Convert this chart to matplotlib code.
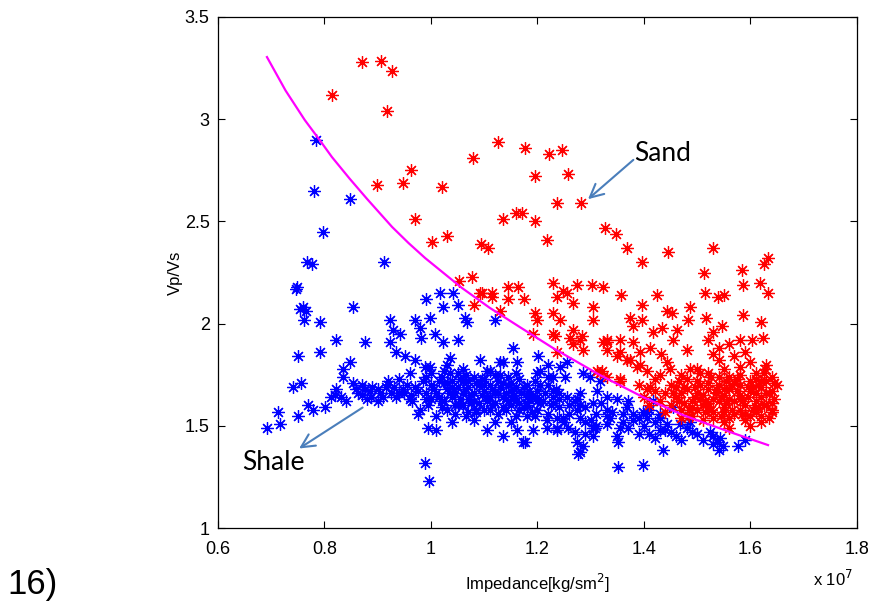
import matplotlib
matplotlib.use("Agg")
import matplotlib.pyplot as plt

plt.rcParams['font.family'] = ['Liberation Sans', 'DejaVu Sans']

# impedance values in units of 1e7 kg/sm^2, and Vp/Vs ratios
shale_x = [
    0.784, 0.780, 0.848, 0.797, 0.767, 0.777, 0.912, 0.746, 0.748, 0.760, 0.754, 0.765, 0.762, 0.792,
    0.854, 0.822, 0.876, 0.750, 0.792, 0.741, 0.756, 0.713, 0.716, 0.692, 0.750, 0.769, 0.778, 0.801,
    0.812, 0.835, 0.848, 0.835, 0.822, 0.831, 0.854, 0.863, 0.876, 0.887, 0.900, 0.919, 0.925, 0.947,
    0.962, 0.923, 0.929, 0.942, 0.923, 0.934, 0.951, 0.970, 0.979, 0.981, 0.991, 1.017, 1.023, 1.041,
    1.051, 1.064, 1.068, 1.008, 1.023, 1.051, 0.970, 0.989, 0.976, 0.995, 1.009, 0.989, 0.996, 1.120,
    1.154, 1.135, 0.998, 1.036, 1.092, 1.135, 1.162, 1.201, 1.220, 1.255, 1.285, 1.317, 1.229, 1.199,
    0.998,
    0.870, 0.885, 0.905, 0.915, 0.935, 0.955, 0.965, 0.975, 0.985, 0.990, 0.870, 0.940, 0.960, 0.980,
    0.900, 0.840, 0.820,
    1.00, 1.01, 1.02, 1.02, 1.03, 1.03, 1.04, 1.04, 1.05, 1.05, 1.05, 1.06, 1.06, 1.07, 1.07, 1.07,
    1.08, 1.08, 1.09, 1.09, 1.10, 1.10, 1.10, 1.11, 1.11, 1.12, 1.12, 1.13, 1.13, 1.14, 1.14, 1.15,
    1.15, 1.16, 1.16, 1.17, 1.18, 1.18, 1.19, 1.20, 1.20, 1.21, 1.22, 1.22, 1.23, 1.24, 1.01, 1.04,
    1.08, 1.12, 1.06, 1.03, 1.11, 1.16, 0.995, 1.00,
    1.015, 1.025, 1.035, 1.045, 1.055, 1.065, 1.075, 1.085, 1.095, 1.105, 1.115, 1.125, 1.135, 1.145,
    1.155, 1.165, 1.175, 1.185, 1.195, 1.205, 1.025, 1.045, 1.065, 1.085, 1.105, 1.125, 1.145, 1.165,
    1.185, 0.930, 0.950, 0.970, 0.990, 0.910, 0.890,
    1.005, 1.015, 1.025, 1.035, 1.045, 1.055, 1.065, 1.075, 1.085, 1.095, 1.105, 1.115, 1.125, 1.135,
    1.145, 1.155, 1.165, 1.175, 1.185, 1.195, 1.205, 1.215, 1.225, 1.235, 1.00, 1.02, 1.04, 1.06,
    1.08, 1.10, 1.12, 1.14, 1.16, 1.18, 1.20, 1.22, 1.24, 0.99, 1.03, 1.07, 1.11, 1.15,
    1.19, 1.23, 1.27, 0.96, 0.94, 0.92, 0.88, 0.86,
    1.135, 1.154, 1.180, 1.199, 1.229, 1.218, 1.248, 1.274, 1.280, 1.304, 1.330, 1.304, 1.274, 1.285,
    1.276, 1.177, 1.105, 1.162, 1.192, 1.237, 1.130, 1.205, 1.242, 1.299, 1.252, 1.280, 1.312, 1.349,
    1.368, 1.398, 1.406, 1.379, 1.355, 1.336, 1.308, 1.304, 1.280, 1.351, 1.398, 1.237, 1.237, 1.257,
    1.173, 1.218, 1.255, 1.274, 1.351,
    1.26, 1.28, 1.30, 1.32, 1.34, 1.36, 1.38, 1.40, 1.42, 1.44, 1.33, 1.37, 1.41, 1.29,
    1.25, 1.27, 1.29, 1.31, 1.33, 1.35, 1.37, 1.39, 1.41, 1.43, 1.45, 1.47, 1.49, 1.51, 1.53,
    1.537, 1.499, 1.436, 1.524, 1.543, 1.548, 1.406, 1.430, 1.443, 1.468, 1.486, 1.430, 1.454, 1.417,
    1.577, 1.590, 1.540, 1.530, 1.460, 1.480, 1.390, 1.420, 1.360, 1.330, 1.290, 1.310, 1.260, 1.240,
    1.180, 1.150,
]
shale_y = [
    2.90, 2.65, 2.61, 2.45, 2.30, 2.29, 2.30, 2.17, 2.18, 2.08, 2.07, 2.06, 2.02, 2.01,
    2.08, 1.92, 1.91, 1.84, 1.86, 1.69, 1.71, 1.57, 1.51, 1.49, 1.55, 1.60, 1.58, 1.59,
    1.64, 1.78, 1.81, 1.74, 1.68, 1.64, 1.71, 1.66, 1.68, 1.64, 1.68, 1.72, 1.66, 1.68,
    1.65, 2.02, 1.97, 1.95, 1.91, 1.86, 1.84, 2.02, 1.98, 1.93, 2.12, 2.15, 2.08, 2.15,
    2.09, 2.03, 2.01, 1.95, 1.91, 1.92, 1.82, 1.79, 1.56, 1.49, 1.48, 1.32, 1.23, 2.02,
    1.88, 1.45, 2.03, 1.83, 1.82, 1.81, 1.81, 1.84, 1.80, 1.81, 1.76, 1.72, 1.74, 1.76,
    1.79,
    1.65, 1.67, 1.66, 1.69, 1.64, 1.70, 1.62, 1.67, 1.72, 1.63, 1.70, 1.73, 1.76, 1.58,
    1.62, 1.62, 1.65,
    1.70, 1.66, 1.74, 1.62, 1.68, 1.58, 1.72, 1.64, 1.69, 1.60, 1.76, 1.66, 1.72, 1.63, 1.69, 1.57,
    1.74, 1.66, 1.70, 1.61, 1.67, 1.73, 1.58, 1.64, 1.70, 1.66, 1.61, 1.69, 1.75, 1.63, 1.58, 1.67,
    1.71, 1.62, 1.55, 1.66, 1.60, 1.70, 1.64, 1.58, 1.67, 1.62, 1.56, 1.70, 1.64, 1.59, 1.55, 1.52,
    1.53, 1.52, 1.78, 1.80, 1.77, 1.76, 1.60, 1.76,
    1.64, 1.71, 1.66, 1.60, 1.73, 1.68, 1.61, 1.71, 1.65, 1.62, 1.68, 1.72, 1.59, 1.70,
    1.65, 1.61, 1.69, 1.63, 1.72, 1.61, 1.77, 1.56, 1.55, 1.57, 1.77, 1.56, 1.74, 1.58,
    1.67, 1.69, 1.66, 1.69, 1.66, 1.64, 1.69,
    1.68, 1.72, 1.62, 1.76, 1.66, 1.63, 1.75, 1.65, 1.58, 1.73, 1.64, 1.60, 1.66, 1.71,
    1.62, 1.68, 1.73, 1.59, 1.65, 1.55, 1.70, 1.66, 1.60, 1.68, 1.63, 1.59, 1.69, 1.60,
    1.62, 1.70, 1.75, 1.66, 1.69, 1.64, 1.62, 1.74, 1.63, 1.74, 1.71, 1.72, 1.58, 1.60,
    1.57, 1.67, 1.62, 1.63, 1.66, 1.70, 1.63, 1.68,
    1.64, 1.63, 1.61, 1.64, 1.61, 1.53, 1.54, 1.63, 1.54, 1.61, 1.64, 1.49, 1.42, 1.40,
    1.36, 1.42, 1.48, 1.48, 1.48, 1.49, 1.81, 1.77, 1.79, 1.74, 1.74, 1.66, 1.67, 1.63,
    1.59, 1.57, 1.54, 1.53, 1.49, 1.54, 1.49, 1.45, 1.37, 1.42, 1.31, 1.54, 1.48, 1.49,
    1.42, 1.49, 1.64, 1.58, 1.30,
    1.56, 1.60, 1.53, 1.61, 1.57, 1.52, 1.56, 1.50, 1.52, 1.48, 1.51, 1.62, 1.58, 1.46,
    1.52, 1.47, 1.59, 1.50, 1.55, 1.45, 1.49, 1.54, 1.46, 1.56, 1.47, 1.43, 1.47, 1.43, 1.45,
    1.42, 1.46, 1.38, 1.47, 1.44, 1.40, 1.57, 1.54, 1.51, 1.51, 1.52, 1.48, 1.59, 1.62,
    1.40, 1.43, 1.38, 1.41, 1.45, 1.49, 1.46, 1.44, 1.56, 1.58, 1.52, 1.56, 1.60, 1.66,
    1.55, 1.52,
]

sand_x = [
    0.870, 0.906, 0.927, 0.814, 0.917, 0.899, 0.947, 0.962, 1.020, 0.970,
    1.126, 1.177, 1.222, 1.246, 1.079, 1.195, 1.257, 1.237, 1.282, 1.135, 1.160, 1.171, 1.195, 1.327,
    1.002, 1.030, 1.094, 1.107, 1.218,
    1.053, 1.077, 1.145, 1.163, 1.229, 1.248, 1.274, 1.302, 1.323, 1.096, 1.115,
    1.347, 1.368, 1.396, 1.445, 1.530, 1.513, 1.584, 1.633, 1.625, 1.586, 1.618, 1.633, 1.357, 1.424,
    1.515, 1.539, 1.550,
    1.396, 1.443, 1.452, 1.374, 1.396, 1.486, 1.483, 1.516, 1.586, 1.620, 1.379, 1.417, 1.434, 1.462,
    1.546, 1.530, 1.454, 1.520, 1.603, 1.624, 1.330, 1.355, 1.379, 1.330, 1.355, 1.393, 1.411, 1.481,
    1.432, 1.374, 1.393, 1.443, 1.449, 1.406, 1.627, 1.355, 1.430, 1.486, 1.505, 1.411,
    1.195, 1.199, 1.237, 1.255, 1.267, 1.304, 1.229, 1.242, 1.267, 1.280, 1.229, 1.192, 1.323, 1.321,
    1.304, 1.285, 1.237,
    1.233, 1.261, 1.284, 1.267, 1.330, 1.349, 1.368, 1.387, 1.312, 1.330, 1.355, 1.406, 1.317,
    1.092, 1.115, 1.145, 1.174, 1.080, 1.130,
    1.45, 1.46, 1.47, 1.47, 1.48, 1.49, 1.49, 1.50, 1.50, 1.51, 1.51, 1.52, 1.52, 1.53, 1.53, 1.54,
    1.54, 1.55, 1.55, 1.55, 1.56, 1.56, 1.57, 1.57, 1.58, 1.58, 1.58, 1.59, 1.59, 1.60, 1.60, 1.61,
    1.61, 1.61, 1.62, 1.62, 1.63, 1.63, 1.64, 1.64, 1.53, 1.57, 1.55, 1.59, 1.60, 1.62, 1.60, 1.56,
    1.63, 1.46, 1.48, 1.52, 1.54, 1.56, 1.58, 1.61, 1.62, 1.64, 1.50, 1.44, 1.43, 1.42, 1.45, 1.47,
    1.44, 1.41, 1.40, 1.39, 1.42, 1.65, 1.54, 1.56, 1.58,
    1.455, 1.475, 1.495, 1.515, 1.535, 1.555, 1.575, 1.595, 1.615, 1.635, 1.465, 1.485, 1.505, 1.525,
    1.545, 1.565, 1.585, 1.605, 1.625, 1.645, 1.52, 1.56, 1.60, 1.64, 1.50, 1.54, 1.58, 1.62,
    1.465, 1.475, 1.485, 1.495, 1.505, 1.515, 1.525, 1.535, 1.545, 1.555, 1.565, 1.575, 1.585, 1.595,
    1.605, 1.615, 1.625, 1.635, 1.645, 1.47, 1.49, 1.51, 1.53, 1.55, 1.57, 1.59, 1.61, 1.63,
    1.52, 1.55, 1.58, 1.61, 1.64,
]
sand_y = [
    3.28, 3.285, 3.236, 3.12, 3.04, 2.68, 2.69, 2.75, 2.67, 2.51,
    2.89, 2.86, 2.83, 2.85, 2.81, 2.72, 2.73, 2.59, 2.59, 2.51, 2.54, 2.54, 2.50, 2.47,
    2.40, 2.43, 2.39, 2.37, 2.41,
    2.21, 2.23, 2.18, 2.18, 2.20, 2.16, 2.19, 2.19, 2.18, 2.15, 2.15,
    2.44, 2.37, 2.30, 2.35, 2.37, 2.25, 2.26, 2.32, 2.29, 2.19, 2.20, 2.15, 2.14, 2.14,
    2.15, 2.13, 2.14,
    2.09, 2.06, 2.05, 2.03, 2.02, 2.08, 2.02, 2.03, 2.04, 2.01, 1.99, 1.96, 1.98, 1.97,
    1.99, 1.96, 1.92, 1.92, 1.92, 1.93, 1.92, 1.92, 1.91, 1.87, 1.86, 1.86, 1.88, 1.87,
    1.85, 1.82, 1.80, 1.81, 1.78, 1.77, 1.78, 1.73, 1.75, 1.78, 1.76, 1.69,
    2.05, 2.02, 2.13, 2.15, 2.10, 2.08, 2.05, 2.02, 1.97, 1.92, 1.95, 1.95, 1.91, 1.77,
    2.02, 1.87, 1.86,
    1.94, 1.93, 1.94, 1.90, 1.91, 1.84, 1.82, 1.79, 1.77, 1.74, 1.72, 1.68, 1.76,
    2.15, 2.13, 2.12, 2.12, 2.09, 2.06,
    1.70, 1.64, 1.58, 1.75, 1.68, 1.62, 1.55, 1.72, 1.66, 1.60, 1.53, 1.68, 1.76, 1.63, 1.57, 1.70,
    1.82, 1.65, 1.59, 1.52, 1.74, 1.68, 1.62, 1.56, 1.70, 1.79, 1.65, 1.60, 1.53, 1.72, 1.67, 1.62,
    1.57, 1.76, 1.69, 1.64, 1.72, 1.60, 1.67, 1.74, 1.85, 1.84, 1.78, 1.86, 1.81, 1.55, 1.50, 1.49,
    1.80, 1.69, 1.73, 1.71, 1.62, 1.63, 1.58, 1.66, 1.72, 1.61, 1.78, 1.66, 1.62, 1.67, 1.60, 1.54,
    1.57, 1.60, 1.64, 1.70, 1.73, 1.70, 1.88, 1.90, 1.92,
    1.66, 1.61, 1.69, 1.57, 1.66, 1.61, 1.73, 1.64, 1.59, 1.66, 1.72, 1.58, 1.63, 1.74,
    1.55, 1.70, 1.56, 1.69, 1.76, 1.63, 1.59, 1.54, 1.55, 1.57, 1.58, 1.74, 1.75, 1.52,
    1.62, 1.69, 1.55, 1.64, 1.70, 1.62, 1.58, 1.68, 1.64, 1.72, 1.58, 1.67, 1.62, 1.69,
    1.58, 1.70, 1.60, 1.54, 1.71, 1.66, 1.59, 1.65, 1.54, 1.68, 1.71, 1.56, 1.73, 1.66,
    1.61, 1.57, 1.63, 1.59, 1.58,
]

# discriminating boundary
curve_x = [0.692, 0.727, 0.763, 0.791, 0.814, 0.847, 0.880, 0.927, 0.958, 0.989, 1.058, 1.110,
           1.167, 1.229, 1.317, 1.398, 1.473, 1.567, 1.633]
curve_y = [3.304, 3.140, 2.996, 2.898, 2.815, 2.710, 2.610, 2.473, 2.394, 2.321, 2.175, 2.078,
           1.983, 1.881, 1.749, 1.641, 1.553, 1.465, 1.406]

fig = plt.figure(figsize=(8.74, 6.07), dpi=100)
ax = fig.add_axes([0.2494, 0.130, 0.7311, 0.842])

star = (8, 2, 0)
ax.plot(shale_x, shale_y, linestyle='none', marker=star, markersize=9,
        markeredgewidth=0.9, color='#0000ff')
ax.plot(sand_x, sand_y, linestyle='none', marker=star, markersize=9,
        markeredgewidth=0.9, color='#ff0000')
ax.plot(curve_x, curve_y, color='#ff00ff', linewidth=1.6, solid_joinstyle='round')

ax.set_xlim(0.6, 1.8)
ax.set_ylim(1, 3.5)
ax.set_xticks([0.6, 0.8, 1.0, 1.2, 1.4, 1.6, 1.8])
ax.set_xticklabels(['0.6', '0.8', '1', '1.2', '1.4', '1.6', '1.8'])
ax.set_yticks([1, 1.5, 2, 2.5, 3, 3.5])
ax.set_yticklabels(['1', '1.5', '2', '2.5', '3', '3.5'])
ax.tick_params(direction='in', top=True, right=True, length=5, width=0.8,
               labelsize=13)
ax.tick_params(axis='x', pad=9)
ax.tick_params(axis='y', pad=6)
for sp in ax.spines.values():
    sp.set_linewidth(0.9)

ax.set_xlabel('Impedance[kg/sm$^2$]', fontsize=12, labelpad=10)
ax.set_ylabel('Vp/Vs', fontsize=12, labelpad=1)
fig.text(0.930, 0.035, 'x 10$^7$', fontsize=12)
fig.text(0.008, 0.022, '16)', fontsize=25)

# labels with arrows
arrow_col = '#4a7ebb'
ax.annotate('', xy=(1.291, 2.60), xytext=(1.384, 2.81),
            arrowprops=dict(arrowstyle='->', color=arrow_col, lw=1.5, mutation_scale=24))
ax.text(1.381, 2.83, 'Sand', fontsize=19, family=['Lato', 'DejaVu Sans'], va='center')
ax.annotate('', xy=(0.748, 1.382), xytext=(0.876, 1.597),
            arrowprops=dict(arrowstyle='->', color=arrow_col, lw=1.5, mutation_scale=24))
ax.text(0.645, 1.323, 'Shale', fontsize=19, family=['Lato', 'DejaVu Sans'], va='center')

fig.savefig('out.png', dpi=100)
